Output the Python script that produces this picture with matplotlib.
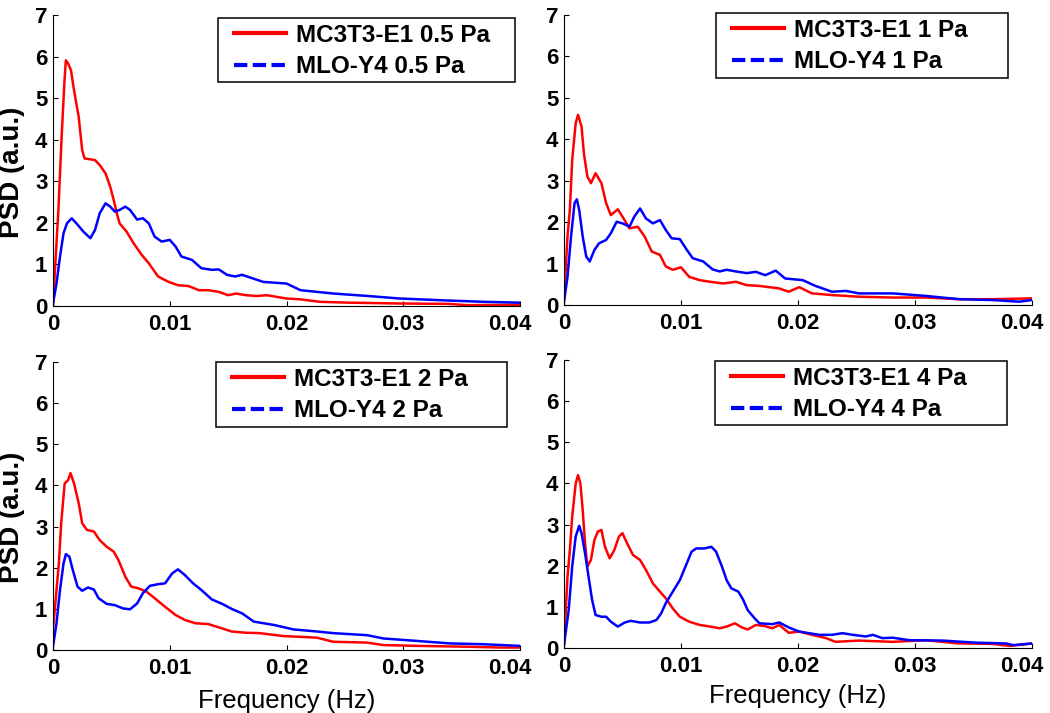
import matplotlib
matplotlib.use("Agg")
import matplotlib.pyplot as plt
import matplotlib.transforms as mtransforms
from matplotlib.lines import Line2D
from matplotlib.patches import Rectangle

plt.rcParams["font.family"] = ["Liberation Sans", "DejaVu Sans"]

# ---- data (frequency in Hz, PSD in a.u.) ----
e1_05_f = [0, 0.00017, 0.00046, 0.00074, 0.00097, 0.0011, 0.0013, 0.00154, 0.0018, 0.0022,
           0.0025, 0.0027, 0.0036, 0.004, 0.0045, 0.0049, 0.0052, 0.0055, 0.0057, 0.0063,
           0.0069, 0.0076, 0.0082, 0.009, 0.0099, 0.0107, 0.0116, 0.0125, 0.0133, 0.0142,
           0.015, 0.0157, 0.0165, 0.0175, 0.0183, 0.02, 0.0212, 0.0229, 0.0254, 0.0297,
           0.034, 0.0354, 0.04]
e1_05_p = [0.02, 0.87, 2.3, 4.07, 5.35, 5.91, 5.83, 5.67, 5.19, 4.55,
           3.75, 3.55, 3.51, 3.39, 3.19, 2.87, 2.55, 2.19, 1.99, 1.79,
           1.51, 1.23, 1.03, 0.71, 0.58, 0.5, 0.48, 0.38, 0.38, 0.34,
           0.26, 0.3, 0.26, 0.24, 0.26, 0.18, 0.16, 0.1, 0.08, 0.06,
           0.05, 0.02, 0.03]
y4_05_f = [0, 0.0003, 0.0006, 0.0009, 0.0012, 0.0016, 0.002, 0.0026, 0.0032, 0.0036,
           0.004, 0.0045, 0.0049, 0.0053, 0.0057, 0.0062, 0.0066, 0.0072, 0.0077, 0.0082,
           0.0087, 0.0093, 0.01, 0.0105, 0.011, 0.0119, 0.0127, 0.0136, 0.0142, 0.0149,
           0.0156, 0.0162, 0.018, 0.02, 0.0212, 0.024, 0.027, 0.0297, 0.034, 0.037, 0.04]
y4_05_p = [0.06, 0.54, 1.19, 1.75, 1.99, 2.11, 1.99, 1.79, 1.63, 1.83,
           2.23, 2.47, 2.39, 2.27, 2.31, 2.39, 2.31, 2.08, 2.11, 1.99,
           1.67, 1.55, 1.59, 1.43, 1.19, 1.11, 0.91, 0.87, 0.88, 0.75,
           0.71, 0.75, 0.58, 0.54, 0.38, 0.3, 0.24, 0.18, 0.13, 0.1, 0.08]

e1_1_f = [0, 0.0003, 0.0005, 0.0007, 0.001, 0.0012, 0.0015, 0.0017, 0.002, 0.0023,
          0.0027, 0.0032, 0.0036, 0.004, 0.0046, 0.005, 0.0056, 0.0063, 0.0069, 0.0075,
          0.0082, 0.0087, 0.0093, 0.01, 0.0107, 0.0116, 0.0125, 0.0136, 0.0147, 0.0156,
          0.0167, 0.0184, 0.0192, 0.0201, 0.0212, 0.0229, 0.0252, 0.0281, 0.0309, 0.0338,
          0.0366, 0.04]
e1_1_p = [0.12, 1.65, 2.3, 3.5, 4.39, 4.59, 4.31, 3.66, 3.1, 2.94,
          3.18, 2.94, 2.46, 2.17, 2.31, 2.13, 1.85, 1.89, 1.65, 1.29,
          1.21, 0.93, 0.85, 0.91, 0.68, 0.6, 0.56, 0.52, 0.56, 0.48,
          0.46, 0.4, 0.32, 0.43, 0.28, 0.24, 0.2, 0.18, 0.18, 0.14,
          0.14, 0.16]
y4_1_f = [0, 0.0003, 0.0006, 0.0009, 0.0011, 0.0013, 0.0016, 0.0019, 0.0022, 0.0026,
          0.003, 0.0036, 0.004, 0.0045, 0.005, 0.0056, 0.006, 0.0065, 0.007, 0.0076,
          0.0082, 0.0087, 0.0092, 0.0099, 0.0105, 0.011, 0.0119, 0.0127, 0.0133, 0.0139,
          0.0147, 0.0156, 0.0164, 0.0172, 0.0181, 0.0189, 0.0204, 0.0215, 0.0229, 0.0241,
          0.0252, 0.0281, 0.0309, 0.0338, 0.0366, 0.0389, 0.04]
y4_1_p = [0.08, 0.68, 1.65, 2.46, 2.55, 2.29, 1.65, 1.17, 1.05, 1.33,
          1.49, 1.57, 1.73, 2.01, 1.97, 1.89, 2.13, 2.33, 2.09, 1.97,
          2.05, 1.81, 1.61, 1.59, 1.33, 1.13, 1.05, 0.86, 0.81, 0.85,
          0.81, 0.77, 0.8, 0.72, 0.83, 0.64, 0.6, 0.46, 0.32, 0.34,
          0.28, 0.28, 0.22, 0.14, 0.12, 0.08, 0.12]

e1_2_f = [0, 0.0002, 0.0005, 0.0007, 0.001, 0.0013, 0.0015, 0.0018, 0.0022, 0.0025,
          0.0029, 0.0035, 0.004, 0.0046, 0.0052, 0.0056, 0.0062, 0.0067, 0.0073, 0.008,
          0.0087, 0.0096, 0.0105, 0.0113, 0.0122, 0.0133, 0.0142, 0.0153, 0.0165, 0.0177,
          0.0197, 0.0226, 0.024, 0.0269, 0.0283, 0.0312, 0.0354, 0.0383, 0.04]
e1_2_p = [0.5, 1.13, 2.1, 3.08, 4.05, 4.13, 4.3, 4.05, 3.57, 3.08,
          2.92, 2.88, 2.67, 2.51, 2.39, 2.19, 1.78, 1.54, 1.5, 1.42,
          1.26, 1.05, 0.85, 0.73, 0.65, 0.63, 0.55, 0.45, 0.42, 0.41,
          0.34, 0.3, 0.2, 0.18, 0.12, 0.1, 0.08, 0.06, 0.06]
y4_2_f = [0, 0.0003, 0.0006, 0.0009, 0.0011, 0.0014, 0.0017, 0.0021, 0.0025, 0.003,
          0.0035, 0.0039, 0.0046, 0.0053, 0.006, 0.0066, 0.0072, 0.0077, 0.0083, 0.009,
          0.0096, 0.0102, 0.0107, 0.0113, 0.012, 0.0127, 0.0136, 0.0145, 0.0153, 0.0162,
          0.0172, 0.0189, 0.0206, 0.0226, 0.024, 0.0269, 0.0283, 0.0312, 0.034, 0.0369, 0.04]
y4_2_p = [0.08, 0.65, 1.46, 2.1, 2.33, 2.27, 1.94, 1.54, 1.44, 1.52,
          1.47, 1.26, 1.12, 1.09, 1.01, 0.99, 1.13, 1.38, 1.56, 1.6,
          1.62, 1.86, 1.96, 1.82, 1.62, 1.46, 1.23, 1.12, 1.0, 0.89,
          0.69, 0.61, 0.5, 0.45, 0.41, 0.36, 0.28, 0.22, 0.16, 0.14, 0.1]

e1_4_f = [0, 0.00015, 0.0003, 0.0005, 0.0007, 0.001, 0.0012, 0.0014, 0.0016, 0.0018,
          0.002, 0.0023, 0.0026, 0.0029, 0.0032, 0.0035, 0.0039, 0.0043, 0.0047, 0.005,
          0.0054, 0.0059, 0.0065, 0.007, 0.0076, 0.0082, 0.0087, 0.0093, 0.0099, 0.0107,
          0.0116, 0.0125, 0.0133, 0.0139, 0.0146, 0.0152, 0.0157, 0.0164, 0.0172, 0.0178,
          0.0184, 0.0192, 0.0201, 0.0212, 0.0224, 0.0232, 0.0252, 0.0281, 0.0309, 0.0338,
          0.0366, 0.0381, 0.04]
e1_4_p = [0.1, 0.9, 1.73, 2.38, 3.19, 4.0, 4.2, 4.0, 3.35, 2.54,
          1.98, 2.14, 2.63, 2.83, 2.87, 2.46, 2.18, 2.38, 2.71, 2.79,
          2.54, 2.26, 2.14, 1.9, 1.57, 1.37, 1.21, 0.96, 0.76, 0.64,
          0.56, 0.52, 0.48, 0.52, 0.6, 0.5, 0.45, 0.56, 0.53, 0.48,
          0.56, 0.37, 0.4, 0.32, 0.24, 0.15, 0.18, 0.15, 0.19, 0.11,
          0.1, 0.05, 0.11]
y4_4_f = [0, 0.0004, 0.0007, 0.001, 0.0013, 0.0015, 0.0018, 0.0021, 0.0024, 0.0027,
          0.0032, 0.0036, 0.004, 0.0046, 0.0052, 0.0057, 0.0065, 0.0073, 0.0079, 0.0083,
          0.0087, 0.0093, 0.0099, 0.0105, 0.0109, 0.0113, 0.012, 0.0126, 0.013, 0.0135,
          0.0139, 0.0143, 0.0149, 0.0153, 0.0157, 0.0163, 0.0167, 0.0178, 0.0184, 0.0192,
          0.0201, 0.0218, 0.0229, 0.0238, 0.0247, 0.0258, 0.0264, 0.0272, 0.0281, 0.0295,
          0.0324, 0.0352, 0.0378, 0.0384, 0.04]
y4_4_p = [0.07, 0.92, 1.98, 2.71, 2.97, 2.79, 2.3, 1.73, 1.17, 0.8,
          0.76, 0.76, 0.64, 0.52, 0.62, 0.66, 0.62, 0.62, 0.68, 0.84,
          1.09, 1.37, 1.65, 2.06, 2.34, 2.42, 2.42, 2.46, 2.34, 1.98,
          1.65, 1.45, 1.37, 1.18, 0.92, 0.72, 0.6, 0.58, 0.62, 0.5,
          0.4, 0.32, 0.32, 0.36, 0.32, 0.28, 0.32, 0.24, 0.25, 0.19,
          0.18, 0.13, 0.11, 0.07, 0.11]

stresses = ["0.5", "1", "2", "4"]
xticks = [0, 0.01, 0.02, 0.03, 0.04]
xtick_labels = ["0", "0.01", "0.02", "0.03", "0.04"]
yticks = [0, 1, 2, 3, 4, 5, 6, 7]

panels = [
    (e1_05_f, e1_05_p, y4_05_f, y4_05_p),
    (e1_1_f, e1_1_p, y4_1_f, y4_1_p),
    (e1_2_f, e1_2_p, y4_2_f, y4_2_p),
    (e1_4_f, e1_4_p, y4_4_f, y4_4_p),
]

# ---- layout, in figure pixels ----
W, H = 1050, 713
axes_px = [(53, 15, 520, 306), (564, 15, 1032, 305),
           (53, 362, 520, 650), (564, 360, 1032, 648)]
box_px = [(218, 18, 515, 82), (716, 13, 1008, 78),
          (216, 362, 507, 427), (715, 361, 1007, 425)]
xlabel_y = [None, None, -0.135, -0.125]

fig = plt.figure(figsize=(W / 100, H / 100), dpi=100)

for i, (ef, ep, yf, yp) in enumerate(panels):
    l, t, r, b = axes_px[i]
    ax = fig.add_axes([l / W, 1 - b / H, (r - l) / W, (b - t) / H])
    ax.plot(ef, ep, color="red", lw=1.8)
    ax.plot(yf, yp, color="blue", lw=1.8)
    ax.set_xlim(0, 0.04)
    ax.set_ylim(0, 7)
    ax.set_xticks(xticks)
    ax.set_xticklabels(xtick_labels)
    ax.set_yticks(yticks)
    ax.tick_params(direction="in", length=3.6, width=0.8, labelsize=16, pad=6)
    ax.tick_params(axis="y", pad=4)
    for lab in ax.get_xticklabels() + ax.get_yticklabels():
        lab.set_fontweight("bold")
    # last x label sits a bit left of its tick, as in the original
    last = ax.get_xticklabels()[-1]
    last.set_transform(last.get_transform() +
                       mtransforms.ScaledTranslation(-10 / 100, 0, fig.dpi_scale_trans))
    ax.spines["top"].set_visible(False)
    ax.spines["right"].set_visible(False)
    for s in ("left", "bottom"):
        ax.spines[s].set_linewidth(0.8)

    if i % 2 == 0:
        ax.set_ylabel("PSD (a.u.)", fontsize=20, fontweight="bold")
        ax.yaxis.set_label_coords(-0.06, 0.46)
    if i >= 2:
        ax.set_xlabel("Frequency (Hz)", fontsize=18.5)
        ax.xaxis.set_label_coords(0.5, xlabel_y[i])

    bl, bt, br, bb = box_px[i]
    fig.add_artist(Rectangle((bl / W, 1 - bb / H), (br - bl) / W, (bb - bt) / H,
                             transform=fig.transFigure, fill=False,
                             ec="black", lw=1.1))
    handles = [Line2D([], [], color="red", lw=3),
               Line2D([], [], color="blue", lw=3, ls=(0, (3.2, 1.3)))]
    labels = [f"MC3T3-E1 {stresses[i]} Pa", f"MLO-Y4 {stresses[i]} Pa"]
    ax.legend(handles, labels, loc="upper left",
              bbox_to_anchor=((bl + 16) / W, 1 - (bt + 6) / H),
              bbox_transform=fig.transFigure, frameon=False,
              borderpad=0, borderaxespad=0, handlelength=2.15,
              handletextpad=0.4, labelspacing=0.33,
              prop={"size": 17.5, "weight": "bold"})

fig.savefig("out.png", dpi=100)
